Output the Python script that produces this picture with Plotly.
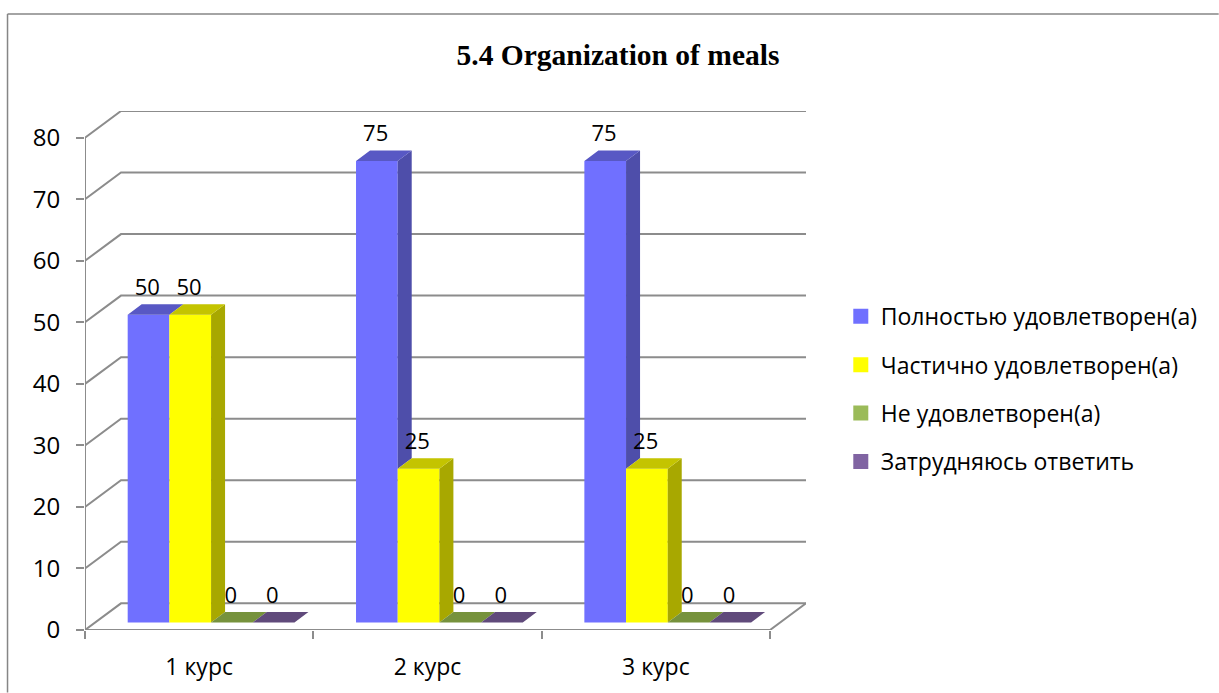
import plotly.graph_objects as go

# ---- data ----
categories = ["1 курс", "2 курс", "3 курс"]
series_names = ["Полностью удовлетворен(а)", "Частично удовлетворен(а)", "Не удовлетворен(а)", "Затрудняюсь ответить"]
full = [50, 75, 75]
partial = [50, 25, 25]
dissatisfied = [0, 0, 0]
undecided = [0, 0, 0]
y_ticks = [0, 10, 20, 30, 40, 50, 60, 70, 80]
series_values = [full, partial, dissatisfied, undecided]

front_colors = ["#7070FF", "#FFFF00", "#9BBB59", "#8064A2"]
top_colors = ["#5858C4", "#C4C400", "#76923C", "#604A7B"]
side_colors = ["#4E4EAA", "#A8A800", "#6A8435", "#55426E"]
grid_color = "#8C8C8C"

# ---- geometry ----
W, H = 1219, 693
L, T = 85, 111
CAT_PX = 228.4
UNIT_PX = 6.16
WALL_DX, WALL_DY = 36 / CAT_PX, 26.7 / UNIT_PX
BAR_W = 41.7 / CAT_PX
BAR_START = 42.7 / CAT_PX
BAR_DX, BAR_DY = 14 / CAT_PX, 10.5 / UNIT_PX
BASE = 7.5 / UNIT_PX
LABEL_UP = 25.5 / UNIT_PX
LABEL_LEFT = 1.2 / CAT_PX
n = len(categories)
plot_w = (n + WALL_DX) * CAT_PX
plot_h = (80 + WALL_DY) * UNIT_PX


def px(x):
    return (x - L) / plot_w


def py(y):
    return 1 - (y - T) / plot_h


fig = go.Figure()

# front faces
for s, vals in enumerate(series_values):
    fig.add_trace(go.Bar(
        x=[g + BAR_START + BAR_W * (s + 0.5) for g in range(n)],
        y=vals, base=BASE, width=BAR_W, name=series_names[s], legendgroup=series_names[s],
        marker=dict(color=front_colors[s], line=dict(width=0)), hoverinfo="x+y", showlegend=False,
    ))

# side and top faces, back to front
for s, vals in enumerate(series_values):
    sx, sy, tx, ty = [], [], [], []
    nxt = series_values[s + 1] if s + 1 < len(series_values) else [0] * n
    for g, v in enumerate(vals):
        x0 = g + BAR_START + BAR_W * s
        x1 = x0 + BAR_W
        top = BASE + v
        low = BASE + min(nxt[g], v)
        sx += [x1, x1, x1 + BAR_DX, x1 + BAR_DX, x1, None]
        sy += [low, top, top + BAR_DY, low + BAR_DY, low, None]
        tx += [x0, x1, x1 + BAR_DX, x0 + BAR_DX, x0, None]
        ty += [top, top, top + BAR_DY, top + BAR_DY, top, None]
    fig.add_trace(go.Scatter(x=sx, y=sy, mode="lines", fill="toself", fillcolor=side_colors[s],
                             line=dict(width=0), showlegend=False, hoverinfo="skip"))
    fig.add_trace(go.Scatter(x=tx, y=ty, mode="lines", fill="toself", fillcolor=top_colors[s],
                             line=dict(width=0), showlegend=False, hoverinfo="skip"))

# value labels
for s, vals in enumerate(series_values):
    fig.add_trace(go.Scatter(
        x=[g + BAR_START + BAR_W * (s + 0.5) - LABEL_LEFT for g in range(n)],
        y=[BASE + v + LABEL_UP for v in vals],
        mode="text", text=[str(v) for v in vals], textposition="middle center",
        textfont=dict(family="Open Sans", size=22, color="#000000"),
        showlegend=False, hoverinfo="skip",
    ))

# legend entries
for s, name in enumerate(series_names):
    fig.add_trace(go.Scatter(x=[None], y=[None], mode="markers", name=name, legendgroup=name,
                             marker=dict(symbol="square", size=15, color=front_colors[s])))

# walls and floor
line = dict(color=grid_color, width=2)
shapes = []
for v in y_ticks:
    shapes.append(dict(type="path", xref="x", yref="y", layer="below", line=line,
                       path=f"M 0 {v} L {WALL_DX} {v + WALL_DY} L {n + WALL_DX} {v + WALL_DY}"))
shapes.append(dict(type="path", xref="x", yref="y", layer="below", line=line,
                   path=f"M 0 {y_ticks[-1]} L 0 0 L {n} 0 L {n + WALL_DX} {WALL_DY}"))
# outer frame
frame = dict(color="#868686", width=1.5)
shapes.append(dict(type="line", xref="paper", yref="paper", layer="below", line=frame,
                   x0=px(7.5), x1=px(1219), y0=py(14), y1=py(14)))
shapes.append(dict(type="line", xref="paper", yref="paper", layer="below", line=frame,
                   x0=px(7.5), x1=px(7.5), y0=py(14), y1=py(693)))

fig.update_layout(
    width=W, height=H, autosize=False,
    margin=dict(l=L, t=T, r=W - L - plot_w, b=H - T - plot_h, pad=0),
    plot_bgcolor="white", paper_bgcolor="white", barmode="overlay", shapes=shapes,
    font=dict(family="Open Sans", color="#000000"),
    title=dict(text="<b>5.4 Organization of meals</b>", x=618 / W, xanchor="center",
               xref="container", yref="container", y=1 - 55 / H, yanchor="middle",
               font=dict(family="Liberation Serif", size=29.5, color="#000000")),
    xaxis=dict(range=[0, n + WALL_DX], tickvals=[g + 0.5 for g in range(n)], ticktext=categories,
               ticks="", ticklabelstandoff=21, showgrid=False, zeroline=False, showline=False,
               tickfont=dict(family="Open Sans", size=23),
               minor=dict(tickvals=list(range(n + 1)), ticks="outside", ticklen=8, tickwidth=2,
                          tickcolor=grid_color, showgrid=False)),
    yaxis=dict(range=[0, 80 + WALL_DY], tickvals=y_ticks, ticks="outside", ticklen=8, tickwidth=2,
               tickcolor=grid_color, showgrid=False, zeroline=False, showline=False,
               ticklabelstandoff=11, tickfont=dict(family="Open Sans", size=24)),
    legend=dict(x=px(841), y=py(295), xanchor="left", yanchor="top", tracegroupgap=15.5,
                font=dict(family="Open Sans", size=23), bgcolor="rgba(0,0,0,0)"),
)

fig.write_html("out.html", post_script="document.body.style.margin='0';", config={"displayModeBar": False})
